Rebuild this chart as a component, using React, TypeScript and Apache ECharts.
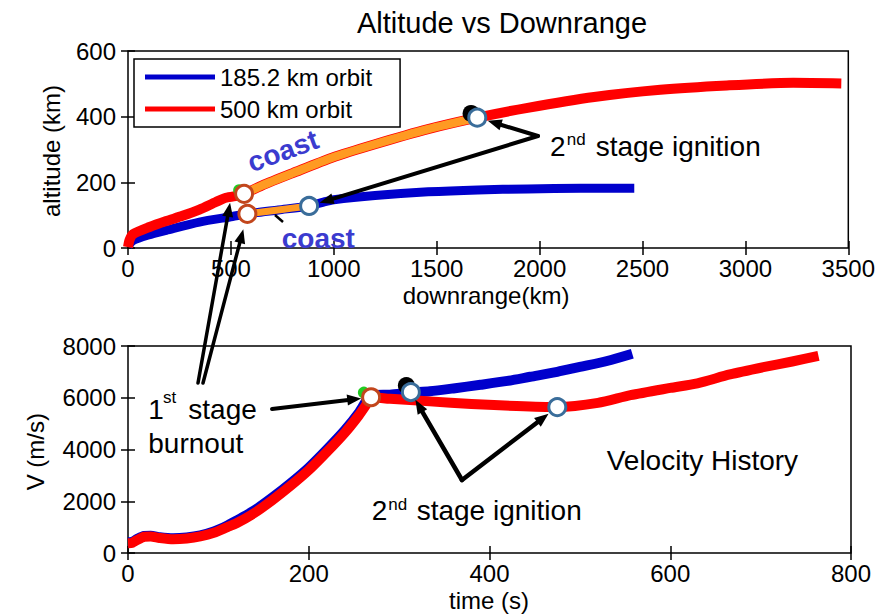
import React, { useEffect, useRef } from 'react';
import * as echarts from 'echarts';

const FONT = 'Liberation Sans, Arial, Helvetica, sans-serif';

// ---- Altitude vs downrange (km, km) ----
const blueAlt: [number, number][] = [
  [0, 5], [24, 23], [100, 40], [186, 54], [347, 79], [508, 96], [580, 104], [730, 116],
  [880, 128], [950, 140], [1000, 147], [1200, 160], [1458, 171], [1700, 177], [1942, 180],
  [2200, 182], [2460, 182],
];
const redAlt: [number, number][] = [
  [0, 3], [8, 25], [24, 42], [105, 64], [186, 82], [265, 98], [347, 117], [427, 140],
  [476, 153], [540, 160], [564, 165], [650, 190], [800, 228], [991, 275], [1200, 316],
  [1458, 362], [1697, 397], [1942, 427], [2265, 460], [2587, 482], [2910, 495], [3232, 503],
  [3466, 501],
];
const redCoastAlt: [number, number][] = [
  [564, 165], [650, 190], [800, 228], [991, 275], [1200, 316], [1458, 362], [1697, 397],
];
const blueCoastAlt: [number, number][] = [[580, 104], [730, 116], [880, 128]];
const burnoutAlt: [number, number][] = [[564, 165], [580, 104]];
const ignitionAlt: [number, number][] = [[1697, 397], [880, 128]];
const greenAlt: [number, number][] = [[540, 176]];
const blackAlt: [number, number][] = [[1667, 410]];

// ---- Velocity history (s, m/s) ----
const blueVel: [number, number][] = [
  [0, 420], [5, 440], [10, 540], [18, 660], [25, 670], [35, 610], [50, 570], [65, 600],
  [80, 680], [95, 830], [110, 1060], [120, 1250], [140, 1650], [160, 2150], [180, 2700],
  [200, 3300], [220, 4000], [240, 4750], [255, 5400], [263, 5850], [268, 6080], [290, 6120],
  [313, 6200], [334, 6250], [360, 6360], [390, 6500], [420, 6650], [445, 6810], [475, 7000],
  [500, 7190], [530, 7420], [558, 7700],
];
const redVel: [number, number][] = [
  [0, 380], [5, 400], [10, 500], [18, 630], [25, 640], [35, 580], [50, 530], [65, 560],
  [80, 640], [95, 780], [110, 1000], [120, 1150], [140, 1550], [160, 2050], [180, 2600],
  [200, 3200], [220, 3900], [240, 4650], [255, 5300], [263, 5700], [269, 6020], [290, 5960],
  [334, 5860], [380, 5760], [430, 5680], [475, 5640], [520, 5800], [556, 6100], [600, 6380],
  [630, 6560], [666, 6900], [703, 7180], [735, 7400], [764, 7620],
];
const burnoutVel: [number, number][] = [[269, 6020]];
const ignitionVel: [number, number][] = [[313, 6220], [475, 5640]];
const greenVel: [number, number][] = [[261, 6200]];
const blackVel: [number, number][] = [[308, 6470]];

const altTicks = { min: 0, max: 600, interval: 200 };
const drTicks = { min: 0, max: 3500, interval: 500 };
const velTicks = { min: 0, max: 8000, interval: 2000 };
const timeTicks = { min: 0, max: 800, interval: 200 };

const legendNames = ['185.2 km orbit', '500 km orbit'];

const BLUE = '#0000cc';
const RED = '#ff0000';
const ORANGE = '#ff9a22';
const BURN = '#c2461c';
const IGN = '#3a6d9a';
const COAST = '#3b3bcf';

function makeAxis(kind: 'x' | 'y', grid: number, t: any, pos: string, labels: boolean) {
  return {
    type: 'value',
    gridIndex: grid,
    position: pos,
    min: t.min,
    max: t.max,
    interval: t.interval,
    axisLine: { show: false },
    axisTick: { show: true, inside: true, length: 7, lineStyle: { color: '#000', width: 1.5 } },
    axisLabel: {
      show: labels,
      fontSize: 24,
      color: '#000',
      fontFamily: FONT,
      margin: kind === 'x' ? 8 : 12,
      formatter: (v: number) => String(v),
    },
    splitLine: { show: false },
  };
}

function lineSeries(name: string, data: any, xi: number, yi: number, color: string, width: number, z = 2) {
  return {
    type: 'line',
    name,
    data,
    xAxisIndex: xi,
    yAxisIndex: yi,
    showSymbol: false,
    symbol: 'none',
    smooth: 0.25,
    color,
    itemStyle: { color },
    lineStyle: { color, width, join: 'round' },
    z,
  };
}

function markerSeries(name: string, data: any, xi: number, yi: number, fill: string, border: string, size: number, z: number) {
  return {
    type: 'scatter',
    name,
    data,
    xAxisIndex: xi,
    yAxisIndex: yi,
    symbol: 'circle',
    symbolSize: size,
    itemStyle: { color: fill, borderColor: border, borderWidth: border === 'none' ? 0 : 3, opacity: 1 },
    z,
  };
}

function arrow(from: number[], tip: number[], width: number) {
  const dx = tip[0] - from[0];
  const dy = tip[1] - from[1];
  const L = Math.hypot(dx, dy);
  const ux = dx / L;
  const uy = dy / L;
  const headLen = 14;
  const headHalf = 5.5;
  const bx = tip[0] - ux * headLen;
  const by = tip[1] - uy * headLen;
  const px = -uy;
  const py = ux;
  return [
    {
      type: 'line',
      shape: { x1: from[0], y1: from[1], x2: bx + ux * 3, y2: by + uy * 3 },
      style: { stroke: '#000', lineWidth: width, lineCap: 'round' },
      z: 100,
    },
    {
      type: 'polygon',
      shape: { points: [[tip[0], tip[1]], [bx + px * headHalf, by + py * headHalf], [bx - px * headHalf, by - py * headHalf]] },
      style: { fill: '#000' },
      z: 100,
    },
  ];
}

function txt(text: string, x: number, baseline: number, fs: number, opts: any = {}) {
  return {
    type: 'text',
    x,
    y: baseline - 0.35 * fs,
    rotation: opts.rotation || 0,
    z: 100,
    style: {
      text,
      fontSize: fs,
      fontFamily: FONT,
      fontWeight: opts.bold ? 'bold' : 'normal',
      fill: opts.color || '#000',
      align: opts.align || 'left',
      verticalAlign: 'middle',
    },
  };
}

export default function App() {
  const ref = useRef<HTMLDivElement>(null);
  useEffect(() => {
    if (!ref.current) return;
    const chart = echarts.init(ref.current, undefined, { renderer: 'svg' });
    const option: any = {
      animation: false,
      backgroundColor: '#fff',
      textStyle: { fontFamily: FONT },
      grid: [
        { left: 128, top: 51, width: 723, height: 197, show: true, borderColor: '#000', borderWidth: 1.5, backgroundColor: 'transparent' },
        { left: 128, top: 346, width: 723, height: 207, show: true, borderColor: '#000', borderWidth: 1.5, backgroundColor: 'transparent' },
      ],
      legend: {
        data: legendNames,
        orient: 'vertical',
        left: 134,
        top: 59,
        padding: [6, 28, 6, 11],
        itemGap: 8,
        itemWidth: 70,
        itemHeight: 5,
        icon: 'rect',
        backgroundColor: '#fff',
        borderColor: '#000',
        borderWidth: 1.5,
        borderRadius: 0,
        textStyle: { fontSize: 24, color: '#000', fontFamily: FONT },
        selectedMode: false,
        z: 50,
      },
      xAxis: [
        makeAxis('x', 0, drTicks, 'bottom', true),
        makeAxis('x', 0, drTicks, 'top', false),
        makeAxis('x', 1, timeTicks, 'bottom', true),
        makeAxis('x', 1, timeTicks, 'top', false),
      ],
      yAxis: [
        makeAxis('y', 0, altTicks, 'left', true),
        makeAxis('y', 0, altTicks, 'right', false),
        makeAxis('y', 1, velTicks, 'left', true),
        makeAxis('y', 1, velTicks, 'right', false),
      ],
      series: [
        lineSeries(legendNames[0], blueAlt, 0, 0, BLUE, 9, 2),
        lineSeries(legendNames[1], redAlt, 0, 0, RED, 10, 3),
        lineSeries('coast500', redCoastAlt, 0, 0, ORANGE, 8.5, 4),
        lineSeries('coast185', blueCoastAlt, 0, 0, ORANGE, 7, 4),
        markerSeries('greenAlt', greenAlt, 0, 0, '#22cc22', 'none', 12, 5),
        markerSeries('blackAlt', blackAlt, 0, 0, '#000', 'none', 17, 5),
        markerSeries('burnAlt', burnoutAlt, 0, 0, '#fff', BURN, 17, 6),
        markerSeries('ignAlt', ignitionAlt, 0, 0, '#fff', IGN, 17, 6),
        lineSeries('v185', blueVel, 2, 2, BLUE, 10, 2),
        lineSeries('v500', redVel, 2, 2, RED, 10, 3),
        markerSeries('greenVel', greenVel, 2, 2, '#22cc22', 'none', 12, 5),
        markerSeries('blackVel', blackVel, 2, 2, '#000', 'none', 17, 5),
        markerSeries('burnVel', burnoutVel, 2, 2, '#fff', BURN, 17, 6),
        markerSeries('ignVel', ignitionVel, 2, 2, '#fff', IGN, 17, 6),
      ],
    };
    chart.setOption(option);

    const px = (seriesIndex: number, v: number[]) => chart.convertToPixel({ seriesIndex }, v) as number[];
    const tipToward = (center: number[], from: number[], gap: number, off: number[] = [0, 0]) => {
      const dx = from[0] - center[0];
      const dy = from[1] - center[1];
      const L = Math.hypot(dx, dy);
      return [center[0] + (dx / L) * gap + off[0], center[1] + (dy / L) * gap + off[1]];
    };

    const topFrom = [538, 136];
    const burnFromA = [198, 383];
    const burnFromB = [203, 383];
    const burnFromC = [272, 409];
    const ignFrom = [462, 480];

    const redIgnTop = px(7, ignitionAlt[0]);
    const blueIgnTop = px(7, ignitionAlt[1]);
    const redBurnTop = px(6, burnoutAlt[0]);
    const blueBurnTop = px(6, burnoutAlt[1]);
    const burnVel = px(12, burnoutVel[0]);
    const blueIgnVel = px(13, ignitionVel[0]);
    const redIgnVel = px(13, ignitionVel[1]);

    const graphics: any[] = [
      ...arrow(topFrom, tipToward(redIgnTop, topFrom, 11), 4),
      ...arrow(topFrom, tipToward(blueIgnTop, topFrom, 11), 4),
      ...arrow(burnFromA, tipToward(redBurnTop, burnFromA, 0, [-14, 9]), 3.5),
      ...arrow(burnFromB, tipToward(blueBurnTop, burnFromB, 16), 3.5),
      ...arrow(burnFromC, tipToward(burnVel, burnFromC, 10), 4),
      ...arrow(ignFrom, tipToward(blueIgnVel, ignFrom, 9), 4.5),
      ...arrow(ignFrom, tipToward(redIgnVel, ignFrom, 11), 4.5),
      { type: 'line', shape: { x1: 275, y1: 215, x2: 283, y2: 222 }, style: { stroke: '#000', lineWidth: 2.5 }, z: 100 },
      txt('Altitude vs Downrange', 502, 33.3, 29, { align: 'center' }),
      txt('downrange(km)', 486, 304, 24, { align: 'center' }),
      txt('time (s)', 489, 608.5, 24, { align: 'center' }),
      { ...txt('altitude (km)', 60, 151, 24, { align: 'center', rotation: Math.PI / 2 }), x: 51.5, y: 151 },
      { ...txt('V (m/s)', 45, 451.7, 24, { align: 'center', rotation: Math.PI / 2 }), x: 35, y: 451.7 },
      txt('2', 550, 156, 28),
      txt('nd', 566.7, 145, 17),
      txt('stage ignition', 595.7, 156, 28),
      txt('2', 371.7, 520, 28),
      txt('nd', 388.3, 510, 17),
      txt('stage ignition', 416.7, 520, 28),
      txt('1', 148.3, 419.3, 28),
      txt('st', 163, 403.3, 17),
      txt('stage', 188.3, 419.3, 28),
      txt('burnout', 148.3, 453.3, 28),
      txt('Velocity History', 606.7, 470, 28),
      txt('coast', 281.7, 248.3, 28, { bold: true, color: COAST }),
      {
        type: 'text',
        x: 283,
        y: 151,
        rotation: (20 * Math.PI) / 180,
        z: 100,
        style: { text: 'coast', fontSize: 28, fontFamily: FONT, fontWeight: 'bold', fill: COAST, align: 'center', verticalAlign: 'middle' },
      },
    ];
    chart.setOption({ graphic: graphics });

    return () => chart.dispose();
  }, []);

  return <div ref={ref} style={{ position: 'fixed', left: 0, top: 0, width: 878, height: 616 }} />;
}
